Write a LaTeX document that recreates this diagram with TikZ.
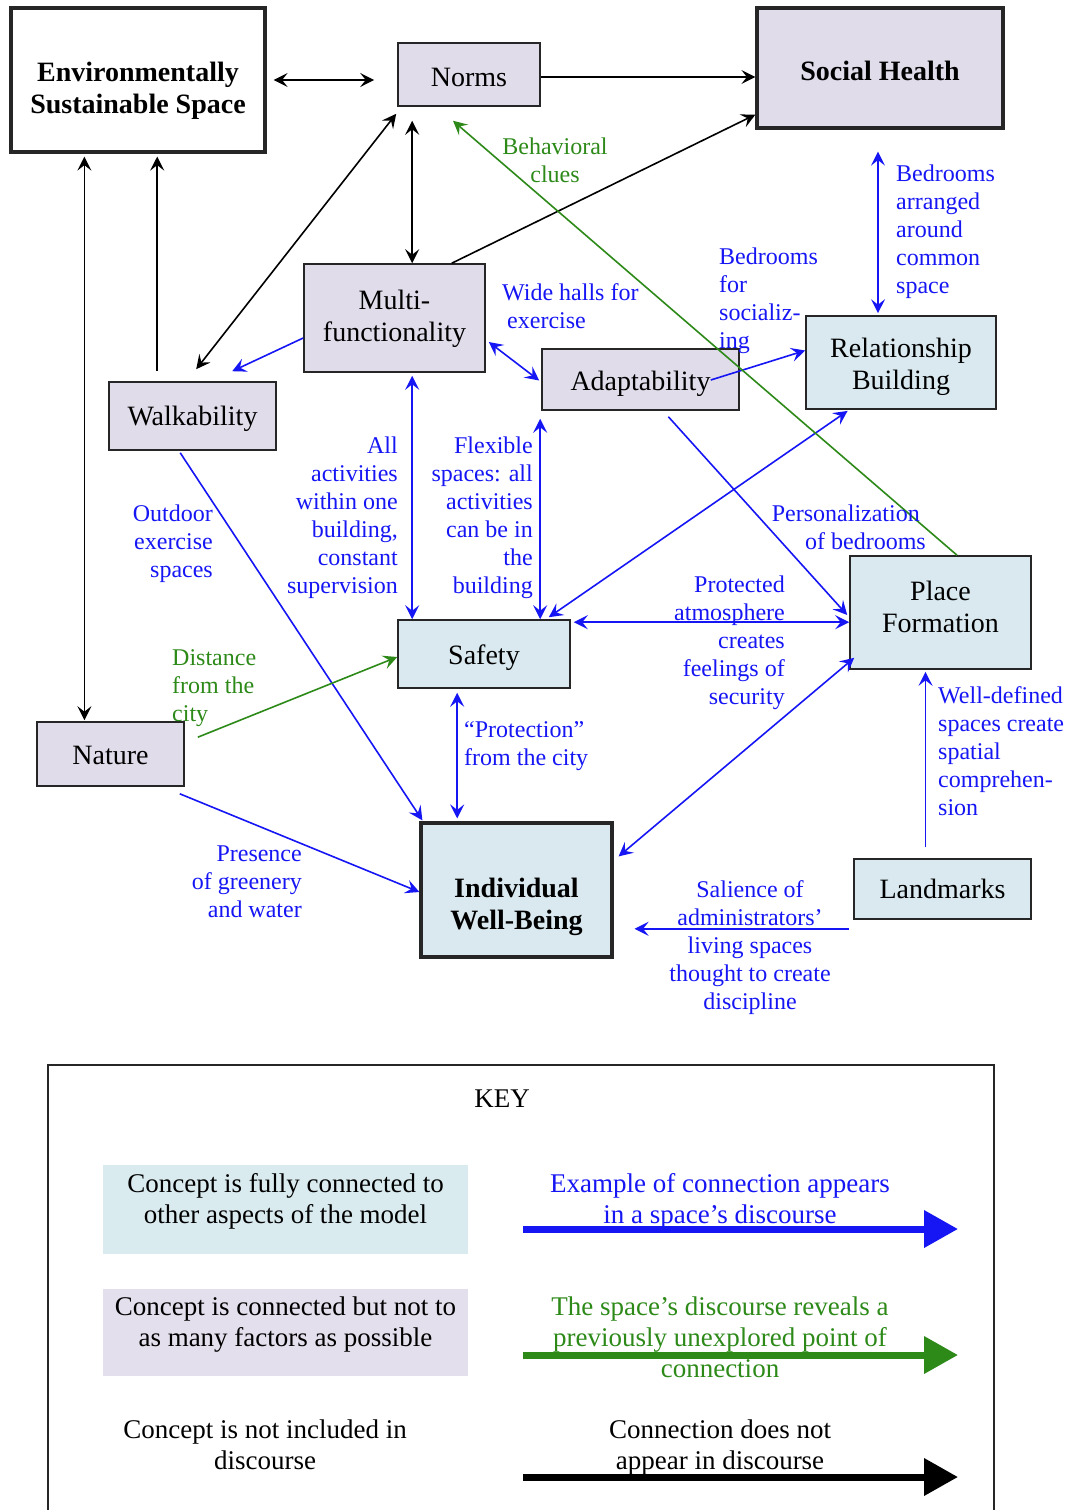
\documentclass[tikz,border=0pt]{standalone}
\usepackage{fontspec}
\setmainfont{Liberation Serif}
\usetikzlibrary{arrows.meta,calc}

\definecolor{lavfill}{RGB}{224,220,234}
\definecolor{bluefill}{RGB}{217,233,239}
\definecolor{keylav}{RGB}{228,223,236}
\definecolor{keyblue}{RGB}{218,235,240}
\definecolor{linkblue}{RGB}{22,22,245}
\definecolor{linkgreen}{RGB}{45,138,25}

\newcommand\myNodeFont{\fontsize{28}{32}\selectfont}
\newcommand\myLabFont{\fontsize{24}{28}\selectfont}
\newcommand\myKeyFont{\fontsize{27}{31}\selectfont}

\begin{document}
\begin{tikzpicture}[x=1pt,y=-1pt,
  box/.style={draw=black!85, line width=1.6pt, inner sep=0pt},
  lav/.style={box, fill=lavfill},
  lblue/.style={box, fill=bluefill},
  heavy/.style={line width=3.2pt},
  ctext/.style={inner sep=0pt, align=center, font=\myNodeFont},
  btext/.style={ctext, font=\myNodeFont\bfseries},
  >={Stealth[length=14pt,width=14pt,inset=5.5pt]},
  blk/.style={draw=black, line width=1.6pt},
  bl/.style={draw=linkblue, line width=1.6pt},
  gr/.style={draw=linkgreen, line width=1.6pt},
  lab/.style={font=\myLabFont, text=linkblue, inner sep=0pt},
  glab/.style={lab, text=linkgreen},
  keytxt/.style={font=\myKeyFont, inner sep=0pt, align=center},
  keybox/.style={minimum width=365pt, inner sep=0pt, draw=none}
]
\useasboundingbox (0,0) rectangle (1073,1510);
\fill[white] (0,0) rectangle (1073,1510);

% ---------- concept boxes ----------
\node[box, heavy, fill=white, minimum width=254, minimum height=144] (ess) at (138,80) {};
\node[lav, minimum width=142, minimum height=63] (norms) at (469,74.5) {};
\node[lav, heavy, minimum width=246, minimum height=120] (sh) at (880,68) {};
\node[lav, minimum width=181, minimum height=108] (multi) at (394.5,318) {};
\node[lav, minimum width=167, minimum height=68] (walk) at (192.5,416) {};
\node[lav, minimum width=197, minimum height=61] (adapt) at (640.5,379.5) {};
\node[lblue, minimum width=190, minimum height=93] (rb) at (901,362.5) {};
\node[lblue, minimum width=172, minimum height=68] (safety) at (484,654) {};
\node[lblue, minimum width=181, minimum height=113] (pf) at (940.5,612.5) {};
\node[lav, minimum width=147, minimum height=64] (nature) at (110.5,754) {};
\node[lblue, heavy, minimum width=191, minimum height=134] (iwb) at (516.5,890) {};
\node[lblue, minimum width=177, minimum height=60] (land) at (942.5,889) {};

% ---------- concept names ----------
\node[btext] (ess-t) at ($(ess)+(0,11)$) {Environmentally\\Sustainable Space};
\node[ctext] (norms-t) at ($(norms)+(0,3)$) {Norms};
\node[btext] (sh-t) at ($(sh)+(0,3)$) {Social Health};
\node[ctext] (multi-t) at ($(multi)+(0,1)$) {Multi-\\functionality};
\node[ctext] (walk-t) at ($(walk)+(0,3)$) {Walkability};
\node[ctext] (adapt-t) at ($(adapt)+(0,4)$) {Adaptability};
\node[ctext] (rb-t) at ($(rb)+(0,4.5)$) {Relationship\\Building};
\node[ctext] (safety-t) at ($(safety)+(0,4)$) {Safety};
\node[ctext] (pf-t) at ($(pf)+(0,-5.5)$) {Place\\Formation};
\node[ctext] (nature-t) at ($(nature)+(0,1)$) {Nature};
\node[btext] (iwb-t) at ($(iwb)+(0,16.5)$) {Individual\\Well-Being};
\node[ctext] (land-t) at (land) {Landmarks};

% ---------- black connections ----------
\draw[blk,<->,shorten <=7pt,shorten >=23pt] (ess.east) -- (ess.east -| norms.west);
\path ($(norms.east)+(0,2.5)$) coordinate (n1);
\draw[blk,->] (n1) -- (n1 -| sh.west);
\draw[blk,->] ($(multi.north east)+(-34,0)$) -- ($(sh.south west)+(0,-15)$);
\path ($(norms.south west)+(15,0)$) coordinate (n2);
\draw[blk,<->,shorten <=14pt] (n2) -- (n2 |- multi.north);
\draw[blk,<->] ($(norms.south west)+(-1,7)$) -- ($(walk.north west)+(88,-12)$);
\path ($(ess.south west)+(75,0)$) coordinate (e1);
\draw[blk,<->,shorten <=3pt,shorten >=1pt] (e1) -- (e1 |- nature.north);
\path ($(walk.north west)+(49,0)$) coordinate (w1);
\draw[blk,->,shorten <=10pt,shorten >=3pt] (w1) -- (w1 |- ess.south);

% ---------- blue connections ----------
\draw[bl,->] ($(multi.west)+(0,20)$) -- ($(walk.north west)+(124,-10)$);
\draw[bl,<->] ($(multi.east)+(3,24)$) -- ($(adapt.west)+(-2,1)$);
\path ($(safety.north west)+(15,0)$) coordinate (s1);
\draw[bl,<->,shorten <=3pt] (s1 |- multi.south) -- (s1);
\path ($(adapt.south west)+(-1,0)$) coordinate (a1);
\draw[bl,<->,shorten <=8pt] (a1) -- (a1 |- safety.north);
\draw[bl,<->,shorten <=2pt] ($(rb.south west)+(44,0)$) -- ($(safety.north east)+(-22,-2)$);
\draw[bl,->] ($(adapt.east)+(-29,0.5)$) -- ($(rb.west)+(0,-12)$);
\path ($(sh.south)+(-2,0)$) coordinate (h1);
\draw[bl,<->,shorten <=22pt,shorten >=2pt] (h1) -- (h1 |- rb.north);
\draw[bl,->,shorten <=8pt] ($(adapt.south)+(22.5,0)$) -- ($(pf.west)+(-2,2.5)$);
\path ($(safety.north east)+(0,3)$) coordinate (s2);
\draw[bl,<->,shorten <=3pt] (s2) -- (s2 -| pf.west);
\draw[bl,<->] ($(pf.south west)+(5,-12)$) -- ($(iwb.north east)+(5,35)$);
\path ($(land.north)+(-17,0)$) coordinate (l1);
\draw[bl,->,shorten <=11pt,shorten >=2pt] (l1) -- (l1 |- pf.south);
\path ($(land.south west)+(-4,9)$) coordinate (l2);
\draw[bl,->,shorten >=21pt] (l2) -- (l2 -| iwb.east);
\path ($(safety.south west)+(60,0)$) coordinate (s3);
\draw[bl,<->,shorten <=4pt,shorten >=3pt] (s3) -- (s3 |- iwb.north);
\draw[bl,->] ($(walk.south west)+(72,2)$) -- ($(iwb.north west)+(3,-1)$);
\draw[bl,->] ($(nature.south east)+(-5,7)$) -- ($(iwb.west)+(0,2)$);

% ---------- green connections ----------
\draw[gr,->] ($(pf.north)+(16.5,0)$) -- ($(norms.south)+(-16,14)$);
\draw[gr,->] ($(nature.north east)+(13,16)$) -- ($(safety.west)+(0,3)$);

% ---------- connection labels ----------
\node[glab, align=center, anchor=north] (t1) at (555,138) {Behavioral\\clues};
\node[lab, align=left, anchor=north west] (t2) at (896,165) {Bedrooms\\arranged\\around\\common\\space};
\node[lab, align=left, anchor=north west] (t3) at (719,248) {Bedrooms\\for\\socializ-\\ing};
\node[lab, align=left, anchor=north west] (t4) at (502,283) {Wide halls for\\\hspace*{5pt}exercise};
\node[lab, align=right, anchor=north east] (t5) at (398,437) {All\\activities\\within one\\building,\\constant\\supervision};
\node[lab, align=right, anchor=north east] (t6) at (533,437) {Flexible\\spaces: all\\activities\\can be in\\the\\building};
\node[lab, align=right, anchor=north east] (t7) at (213,505) {Outdoor\\exercise\\spaces};
\node[lab, align=right, anchor=north east] (t8) at (926,505) {Personalization\hspace*{6pt}\\of bedrooms};
\node[lab, align=right, anchor=north east] (t9) at (785,576) {Protected\\atmosphere\\creates\\feelings of\\security};
\node[glab, align=left, anchor=north west] (t10) at (172,649) {Distance\\from the\\city};
\node[lab, align=left, anchor=north west] (t11) at (464,721) {“Protection”\\from the city};
\node[lab, align=left, anchor=north west] (t12) at (938,686) {Well-defined\\spaces create\\spatial\\comprehen-\\sion};
\node[lab, align=right, anchor=north east] (t13) at (302,846) {Presence\\of greenery\\and water};
\node[lab, align=center, anchor=north] (t14) at (750,880) {Salience of\\administrators’\\living spaces\\thought to create\\discipline};

% ---------- key ----------
\draw[black!85, line width=2.4pt] (48,1515) -- (48,1065) -- (994,1065) -- (994,1515);
\node[keytxt] (keyhead) at (502,1099) {KEY};

\node[keybox, fill=keyblue, minimum height=89pt] (kfull) at (285.5,1209.5) {};
\node[keytxt, anchor=north] (kfullt) at ($(kfull.north)+(0,8)$) {Concept is fully connected to\\other aspects of the model};
\node[keybox, fill=keylav, minimum height=87pt] (kpart) at (285.5,1332.5) {};
\node[keytxt, anchor=north] (kpartt) at ($(kpart.north)+(0,8)$) {Concept is connected but not to\\as many factors as possible};
\node[keytxt, anchor=north] (knone) at (265,1420) {Concept is not included in\\discourse};

\coordinate (kb0) at (523,1229);
\coordinate (kb1) at (958,1229);
\coordinate (kg0) at (523,1355);
\coordinate (kg1) at (958,1355);
\coordinate (kk0) at (523,1477);
\coordinate (kk1) at (958,1477);
\draw[linkblue, line width=7pt, -{Triangle[length=34pt,width=36pt]}] (kb0) -- (kb1);
\draw[linkgreen, line width=7pt, -{Triangle[length=34pt,width=36pt]}] (kg0) -- (kg1);
\draw[black, line width=7pt, -{Triangle[length=34pt,width=36pt]}] (kk0) -- (kk1);
\node[keytxt, text=linkblue, anchor=north] (kbt) at (720,1173) {Example of connection appears\\in a space’s discourse};
\node[keytxt, text=linkgreen, anchor=north] (kgt) at (720,1297) {The space’s discourse reveals a\\previously unexplored point of\\connection};
\node[keytxt, anchor=north] (kkt) at (720,1420) {Connection does not\\appear in discourse};
\end{tikzpicture}
\end{document}
